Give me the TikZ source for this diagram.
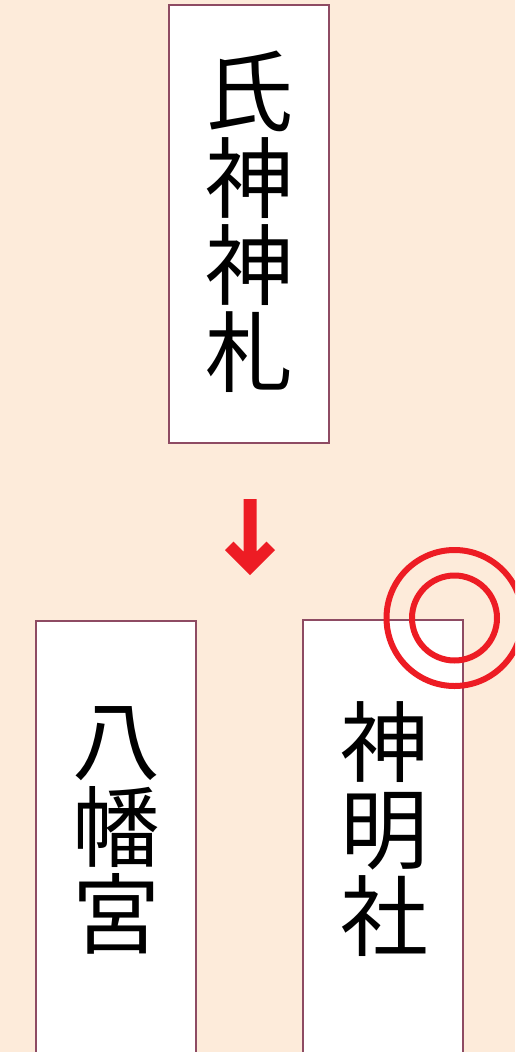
\documentclass[tikz,border=0pt]{standalone}
\usepackage{fontspec}
\newfontfamily\cjk{Noto Sans CJK JP}
\definecolor{bg}{RGB}{253,235,218}
\definecolor{cardline}{RGB}{142,75,99}
\definecolor{redmark}{RGB}{237,28,36}
\tikzset{
  card/.style={draw=cardline, fill=white, line width=1.4pt},
  cardtext/.style={font=\cjk\fontsize{88}{87}\selectfont, align=center, inner sep=0pt, text=black},
  ring/.style={draw=redmark, line width=6pt},
}
\begin{document}
\begin{tikzpicture}[x=1pt,y=-1pt]
\useasboundingbox (0,0) rectangle (515,1052);
\clip (0,0) rectangle (515,1052);
\fill[bg] (0,0) rectangle (515,1052);
% cards
\draw[card] (169,5) rectangle (329,443);
\draw[card] (36,621) rectangle (196,1070);
\draw[card] (303,620) rectangle (463,1070);
% texts
\node[cardtext] (top) at (249,222) {氏\\神\\神\\札};
\node[cardtext] (left) at (116,830) {八\\幡\\宮};
\node[cardtext] (right) at (384,829) {神\\明\\社};
% arrow
\fill[redmark] (243.5,499) -- (256.5,499) -- (256.5,551.5) -- (266.5,541.5) -- (275,550)
  -- (250,575) -- (225,550) -- (233.5,541.5) -- (243.5,551.5) -- cycle;
% double circle
\coordinate (c) at (454.5,618);
\draw[ring] (c) circle[radius=68];
\draw[ring] (c) circle[radius=42.5];
\end{tikzpicture}
\end{document}
